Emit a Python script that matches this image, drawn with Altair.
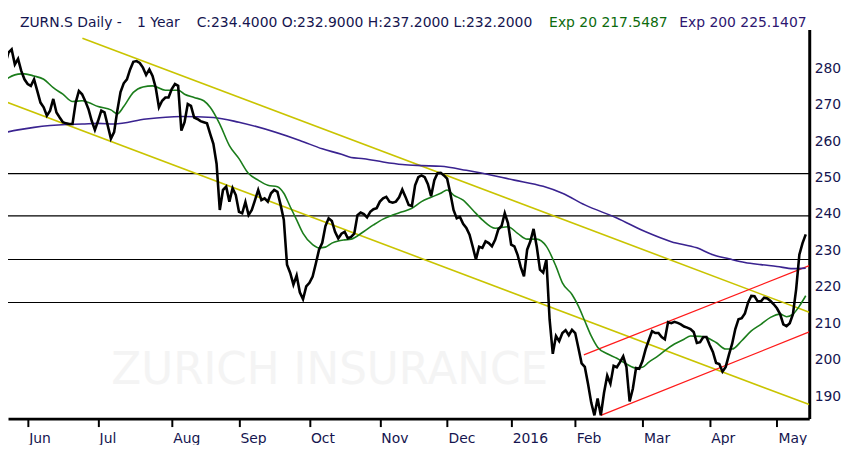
import altair as alt
import pandas as pd

# ---------------- data ----------------
# x = trading-session number (0 = first session shown, late May 2015)
close_day = list(range(252))
close = [281.5, 281.2, 284.3, 285.2, 281.1, 282.6, 279.3, 277.0, 275.7, 275.2,
         277.0, 273.8, 270.6, 269.3, 267.0, 268.4, 271.6, 267.9, 266.5, 265.2,
         264.9, 264.7, 264.7, 270.6, 273.8, 272.9, 271.0, 268.8, 265.6, 263.1,
         265.6, 268.4, 267.9, 264.3, 260.7, 262.5, 268.4, 273.5, 275.9, 277.0,
         279.7, 281.8, 282.0, 281.5, 280.2, 278.2, 279.7, 277.9, 274.7, 269.3,
         271.1, 272.0, 272.0, 274.3, 275.7, 275.2, 262.9, 265.2, 270.2, 269.7,
         266.5, 266.1, 265.5, 265.2, 264.9, 262.0, 259.3, 253.8, 241.1, 246.6,
         247.5, 243.4, 247.1, 245.2, 240.6, 240.2, 243.3, 239.7, 241.1, 243.8,
         246.6, 243.8, 244.3, 243.4, 245.7, 246.6, 246.1, 242.5, 238.4, 226.1,
         223.8, 220.6, 223.1, 218.5, 216.6, 220.1, 221.1, 222.8, 226.4, 230.2,
         232.1, 236.7, 238.8, 238.1, 235.1, 233.3, 234.6, 235.1, 233.3, 233.7,
         234.6, 239.7, 240.4, 240.0, 239.1, 240.6, 241.3, 241.6, 243.4, 244.3,
         244.7, 243.4, 243.1, 243.4, 244.6, 246.7, 244.7, 242.5, 242.2, 247.9,
         250.1, 250.6, 250.1, 248.2, 244.9, 249.3, 251.2, 251.3, 250.6, 249.7,
         245.7, 241.1, 238.8, 239.2, 237.3, 236.2, 234.3, 231.0, 227.5, 231.0,
         230.7, 232.5, 232.0, 231.1, 232.9, 235.8, 236.7, 240.2, 237.5, 231.6,
         231.1, 228.8, 225.4, 222.9, 230.2, 232.5, 235.9, 231.0, 224.7, 223.9,
         227.5, 211.1, 201.6, 206.5, 205.1, 207.3, 208.1, 206.7, 208.2, 207.3,
         203.2, 199.0, 198.0, 193.4, 188.2, 184.7, 189.3, 184.7, 190.9, 195.6,
         193.4, 198.3, 197.9, 199.3, 200.9, 198.0, 188.5, 192.0, 197.7, 197.5,
         199.6, 202.9, 205.4, 207.8, 207.3, 207.3, 206.2, 205.6, 210.3, 210.0,
         210.4, 210.1, 209.7, 209.1, 208.8, 208.4, 207.6, 204.6, 204.8, 206.2,
         206.2, 204.0, 202.1, 199.1, 198.8, 196.7, 198.0, 201.3, 204.3, 208.4,
         211.1, 211.4, 212.7, 215.7, 217.5, 217.4, 216.0, 216.0, 217.0, 216.8,
         216.1, 215.2, 214.1, 212.5, 209.7, 209.2, 210.0, 212.5, 219.3, 228.8,
         232.0, 234.4]

ema20_day = [0, 2, 6, 7, 10, 13, 16, 19, 22, 25, 27, 30, 34, 36, 38, 41, 44, 47, 51, 55,
             57, 60, 63, 65, 68, 71, 74, 77, 80, 83, 86, 88, 90, 92, 94, 97, 99, 101, 103, 105,
             107, 109, 113, 116, 119, 122, 125, 128, 131, 134, 137, 139, 141, 144, 147, 150, 154, 158, 161, 164,
             167, 170, 173, 175, 178, 180, 182, 184, 186, 189, 192, 195, 198, 200, 202, 205, 207, 210, 213, 215,
             218, 220, 223, 226, 228, 231, 234, 237, 240, 243, 245, 247, 249, 251]
ema20 = [275.6, 277.4, 278.5, 278.5, 277.9, 277.0, 274.7, 272.9, 270.9, 271.1,
         270.6, 269.5, 268.6, 267.5, 269.5, 273.4, 274.9, 275.2, 274.0, 274.0,
         272.9, 272.0, 271.1, 269.3, 264.7, 258.8, 255.2, 251.1, 249.3, 247.9,
         247.5, 245.7, 242.0, 238.4, 234.7, 231.6, 230.7, 230.9, 232.0, 232.6,
         232.9, 233.1, 235.2, 237.0, 238.6, 239.7, 240.6, 241.6, 243.4, 244.6,
         245.7, 246.6, 245.2, 243.8, 241.1, 238.4, 236.1, 236.5, 234.7, 233.1,
         233.1, 231.1, 225.6, 221.1, 217.9, 214.7, 210.6, 206.5, 203.4, 201.6,
         200.4, 198.8, 197.7, 197.9, 199.3, 201.1, 202.5, 204.3, 205.6, 206.5,
         206.4, 206.1, 204.7, 202.9, 202.9, 205.2, 207.9, 209.7, 211.6, 212.5,
         211.8, 212.5, 214.7, 217.5487]

ema200_day = [0, 5, 10, 15, 20, 25, 30, 35, 45, 56, 66, 74, 93, 100, 106, 109, 113, 119, 125, 131,
              137, 145, 160, 169, 175, 182, 192, 201, 209, 217, 222, 227, 232, 237, 242, 247, 251]
ema200 = [262.2, 263.1, 263.8, 264.3, 264.6, 264.7, 264.9, 264.7, 266.1, 266.8,
          266.5, 265.2, 260.2, 257.9, 256.4, 255.5, 255.2, 254.3, 253.6, 253.3,
          253.1, 252.0, 249.3, 247.6, 245.7, 242.5, 238.9, 235.1, 232.4, 230.7,
          228.8, 227.7, 226.7, 226.1, 225.6, 225.0, 225.1407]

# trend channels (start / end)
yellow_up_day, yellow_up_val = [25.1, 252.1], [288.3, 213.0]
yellow_lo_day, yellow_lo_val = [-0.6, 252.1], [271.4, 187.65]
red_up_day, red_up_val = [181.7, 252.1], [201.3, 225.8]
red_lo_day, red_lo_val = [187.0, 252.1], [184.7, 207.6]

# horizontal support / resistance levels
levels = [251.1, 239.5, 227.5, 215.7]

# axes
month_days = [8, 30, 53, 74, 96, 118, 139, 159, 179, 200, 221, 242]
month_labels = ["Jun", "Jul", "Aug", "Sep", "Oct", "Nov", "Dec", "2016", "Feb", "Mar", "Apr", "May"]
price_ticks = [190, 200, 210, 220, 230, 240, 250, 260, 270, 280]

header_a = "ZURN.S Daily -"
header_b = "1 Year"
header_c = "C:234.4000 O:232.9000 H:237.2000 L:232.2000"
header_d = "Exp 20 217.5487"
header_e = "Exp 200 225.1407"
watermark = "ZURICH INSURANCE"

# ---------------- styling ----------------
NAVY = "#15154f"
FONT = "DejaVu Sans"

xscale = alt.Scale(domain=[1.86, 252.09], nice=False, zero=False)
yscale = alt.Scale(domain=[183.8, 290.7], nice=False, zero=False)

label_expr = "[" + ",".join("'%s'" % m for m in month_labels) + "][indexof([" + \
    ",".join(str(d) for d in month_days) + "], datum.value)]"

xaxis = alt.Axis(values=month_days, labelExpr=label_expr, orient="bottom", grid=False,
                 domainColor="black", domainWidth=3, tickColor="black", tickWidth=2, tickSize=8,
                 labelAlign="left", labelBaseline="alphabetic", labelPadding=16, labelOffset=1,
                 labelFont=FONT, labelFontSize=14, labelColor=NAVY, title=None,
                 labelFlush=False, labelOverlap=False)
yaxis = alt.Axis(values=price_ticks, orient="right", grid=False, ticks=False, tickSize=0,
                 domainColor="black", domainWidth=3, labelAlign="left", labelPadding=5,
                 labelFont=FONT, labelFontSize=14, labelColor=NAVY, title=None,
                 labelFlush=False, labelOverlap=False)


def line_layer(days, vals, color, width, interp="linear"):
    df = pd.DataFrame({"day": days, "value": vals})
    return alt.Chart(df).mark_line(color=color, strokeWidth=width, clip=True,
                                   interpolate=interp).encode(
        x=alt.X("day:Q", scale=xscale, axis=xaxis),
        y=alt.Y("value:Q", scale=yscale, axis=yaxis),
    )


def text_layer(txt, x, y, color, size=14, baseline="alphabetic"):
    return alt.Chart(pd.DataFrame({"t": [txt]})).mark_text(
        align="left", baseline=baseline, font=FONT, fontSize=size, color=color
    ).encode(x=alt.value(x), y=alt.value(y), text="t:N")


wm = text_layer(watermark, 104, 344, "#f4f4f4", size=44, baseline="middle")

level_layer = alt.Chart(pd.DataFrame({"level": levels})).mark_rule(
    color="black", strokeWidth=1.2).encode(
    y=alt.Y("level:Q", scale=yscale, axis=yaxis))

layers = [
    wm,
    level_layer,
    line_layer(yellow_up_day, yellow_up_val, "#c9c400", 1.6),
    line_layer(yellow_lo_day, yellow_lo_val, "#c9c400", 1.6),
    line_layer(red_up_day, red_up_val, "#ff1a1a", 1.3),
    line_layer(red_lo_day, red_lo_val, "#ff1a1a", 1.3),
    line_layer(ema200_day, ema200, "#3a2390", 1.6, "monotone"),
    line_layer(ema20_day, ema20, "#1b7d1b", 1.6, "monotone"),
    line_layer(close_day, close, "black", 2.6),
    text_layer(header_a, 12, -2, NAVY),
    text_layer(header_b, 130, -2, NAVY),
    text_layer(header_c, 190, -2, NAVY),
    text_layer(header_d, 545, -2, "#0d6b0d"),
    text_layer(header_e, 676, -2, "#2d1670"),
]

chart = alt.layer(*layers).properties(
    width=807, height=392,
    padding={"left": 0, "top": 20, "right": 33, "bottom": 25},
    autosize=alt.AutoSizeParams(type="none"),
    background="white",
).configure_view(stroke=None)

chart.save("out.html", embed_options={"renderer": "svg", "actions": False})
